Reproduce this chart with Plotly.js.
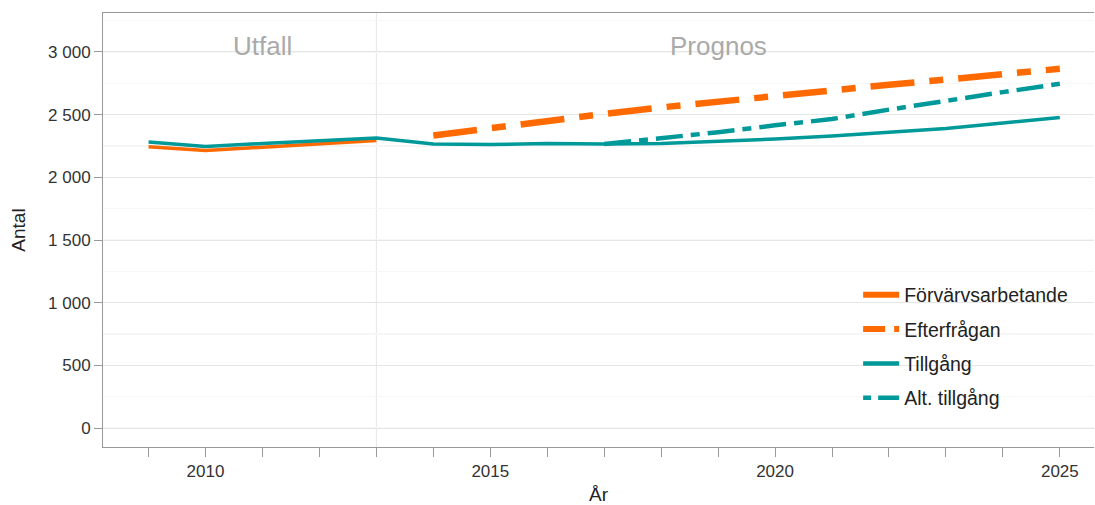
<!DOCTYPE html>
<html>
<head>
<meta charset="utf-8">
<script src="https://cdn.plot.ly/plotly-3.0.1.min.js"></script>
<style>
  html, body { margin: 0; padding: 0; background: #fff; }
  #chart { width: 1095px; height: 505px; }
</style>
</head>
<body>
<div id="chart"></div>
<script>
// Historical years and forecast years
const yearsHist = [2009, 2010, 2011, 2012, 2013];
const yearsAll = [2009, 2010, 2011, 2012, 2013, 2014, 2015, 2016, 2017, 2018, 2019, 2020, 2021, 2022, 2023, 2024, 2025];
const yearsDemand = [2014, 2015, 2016, 2017, 2018, 2019, 2020, 2021, 2022, 2023, 2024, 2025];
const yearsAltSupply = [2017, 2018, 2019, 2020, 2021, 2022, 2023, 2024, 2025];

// Employed (outcome)
const employed = [2244, 2215, 2240, 2267, 2294];
// Demand (forecast)
const demand = [2334, 2395, 2452, 2506, 2558, 2606, 2652, 2697, 2739, 2780, 2823, 2866];
// Supply (outcome + forecast)
const supply = [2281, 2247, 2270, 2292, 2313, 2266, 2262, 2270, 2266, 2270, 2286, 2306, 2330, 2358, 2390, 2434, 2478];
// Alternative supply
const altSupply = [2266, 2310, 2360, 2415, 2465, 2540, 2613, 2680, 2746];

const seriesNames = ['Förvärvsarbetande', 'Efterfrågan', 'Tillgång', 'Alt. tillgång'];
const periodLabels = ['Utfall', 'Prognos'];
const xTickVals = [2010, 2015, 2020, 2025];

const ORANGE = '#FF6A00';
const TEAL = '#00999A';
const FONT = '"Liberation Sans", Arial, sans-serif';

// Line styles for the plotted series and the (heavier) legend keys
const plotLines = [
  { color: ORANGE, width: 3.5 },
  { color: ORANGE, width: 6.5, dash: '44px,15px,14px,15px' },
  { color: TEAL, width: 3.5 },
  { color: TEAL, width: 4.5, dash: '27px,8px,9px,8px' }
];
const legendLines = [
  { color: ORANGE, width: 6 },
  { color: ORANGE, width: 6, dash: '22px,9px,7px,9px' },
  { color: TEAL, width: 4.5 },
  { color: TEAL, width: 4.5, dash: '8px,7px,22px,7px' }
];

const xs = [yearsHist, yearsDemand, yearsAll, yearsAltSupply];
const ys = [employed, demand, supply, altSupply];

const traces = xs.map((x, i) => ({
  x: x, y: ys[i], name: seriesNames[i], type: 'scatter', mode: 'lines',
  line: plotLines[i], showlegend: false, hoverinfo: 'skip'
}));

// Legend keys (no data of their own)
seriesNames.forEach((name, i) => {
  traces.push({
    x: [null], y: [null], name: name, type: 'scatter', mode: 'lines',
    line: legendLines[i], legendgroup: 'g' + i, showlegend: true
  });
});

const layout = {
  width: 1095, height: 505,
  margin: { l: 103, r: 1, t: 13, b: 58 },
  paper_bgcolor: '#fff', plot_bgcolor: '#fff',
  separators: ', ',
  font: { family: FONT, size: 16, color: '#333' },
  showlegend: true,
  legend: {
    x: 0.762, y: 0.395, xanchor: 'left', yanchor: 'top',
    bgcolor: 'rgba(0,0,0,0)', font: { family: FONT, size: 19.5, color: '#222' },
    traceorder: 'grouped', tracegroupgap: 6, itemwidth: 36
  },
  xaxis: {
    range: [2008.2, 2025.6],
    tickvals: xTickVals, ticktext: xTickVals.map(String),
    ticks: 'outside', ticklen: 9, tickcolor: '#999', tickwidth: 1,
    minor: { dtick: 1, tick0: 2009, ticks: 'outside', ticklen: 9, tickcolor: '#999', showgrid: false },
    showgrid: false, zeroline: false,
    showline: true, linecolor: '#999', linewidth: 1, mirror: true,
    tickfont: { family: FONT, size: 17, color: '#333' },
    title: { text: 'År', font: { family: FONT, size: 19, color: '#222' }, standoff: 10 }
  },
  yaxis: {
    range: [-151, 3311],
    tickvals: [0, 500, 1000, 1500, 2000, 2500, 3000],
    ticks: 'outside', ticklen: 8, tickcolor: '#999', tickwidth: 1,
    showgrid: true, gridcolor: '#e6e6e6', gridwidth: 1,
    minor: { dtick: 250, tick0: 250, showgrid: true, gridcolor: '#f6f6f6', gridwidth: 1.5, ticks: '' },
    zeroline: false,
    showline: true, linecolor: '#999', linewidth: 1,
    tickformat: ',d',
    tickfont: { family: FONT, size: 17, color: '#333' },
    title: { text: 'Antal', font: { family: FONT, size: 19, color: '#222' }, standoff: 17 }
  },
  shapes: [
    { type: 'line', xref: 'x', yref: 'paper', x0: 2013, x1: 2013, y0: 0, y1: 1,
      line: { color: '#e6e6e6', width: 1 }, layer: 'below' }
  ],
  annotations: [
    { x: 2011, y: 3050, xref: 'x', yref: 'y', text: periodLabels[0], showarrow: false,
      font: { family: FONT, size: 26, color: '#aaaaaa' } },
    { x: 2019, y: 3050, xref: 'x', yref: 'y', text: periodLabels[1], showarrow: false,
      font: { family: FONT, size: 26, color: '#aaaaaa' } }
  ]
};

Plotly.newPlot('chart', traces, layout, { displayModeBar: false, staticPlot: true });
</script>
</body>
</html>
